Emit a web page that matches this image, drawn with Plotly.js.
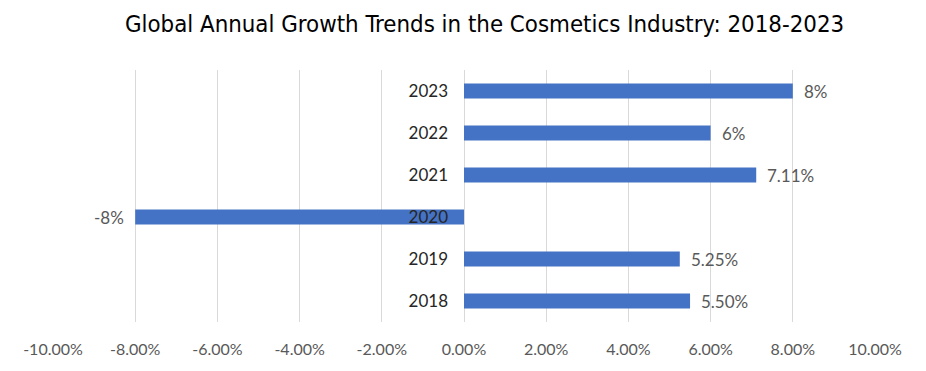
<!DOCTYPE html>
<html>
<head>
<meta charset="utf-8">
<script src="https://cdn.plot.ly/plotly-3.0.1.min.js"></script>
<style>html,body{margin:0;padding:0;background:#fff;}#chart{width:926px;height:371px;}</style>
</head>
<body>
<div id="chart"></div>
<script>
var years = ["2018", "2019", "2020", "2021", "2022", "2023"];
var growth = [0.055, 0.0525, -0.08, 0.0711, 0.06, 0.08];
var labels = ["5.50%", "5.25%", "-8%", "7.11%", "6%", "8%"];
var tickVals = [-0.10, -0.08, -0.06, -0.04, -0.02, 0, 0.02, 0.04, 0.06, 0.08, 0.10];
var tickText = ["-10.00%", "-8.00%", "-6.00%", "-4.00%", "-2.00%", "0.00%", "2.00%", "4.00%", "6.00%", "8.00%", "10.00%"];

var trace = {
  type: "bar",
  orientation: "h",
  x: growth,
  y: years,
  marker: {color: "#4472C4"},
  width: 0.36,
  hoverinfo: "x+y"
};

var annotations = growth.map(function (v, i) {
  return {
    x: v,
    y: i,
    xref: "x",
    yref: "y",
    text: labels[i],
    showarrow: false,
    xanchor: v >= 0 ? "left" : "right",
    yanchor: "middle",
    xshift: v >= 0 ? 9 : -9,
    font: {family: "Lato, 'Open Sans', sans-serif", size: 17, color: "#595959"}
  };
});

var layout = {
  width: 926,
  height: 371,
  margin: {l: 53, r: 51, t: 70, b: 49},
  paper_bgcolor: "#ffffff",
  plot_bgcolor: "#ffffff",
  showlegend: false,
  annotations: annotations,
  title: {
    text: "Global Annual Growth Trends in the Cosmetics Industry: 2018-2023",
    font: {family: "'DejaVu Sans Condensed', 'Liberation Sans Narrow', sans-serif", size: 23.8, color: "#000000"},
    xref: "paper", x: 0.525, xanchor: "center", y: 0.935, yanchor: "middle"
  },
  xaxis: {
    range: [-0.10, 0.10],
    tickvals: tickVals,
    ticktext: tickText,
    showgrid: true,
    gridcolor: "#d9d9d9",
    gridwidth: 1,
    zeroline: false,
    showline: false,
    ticks: "",
    ticklabelstandoff: 16,
    tickfont: {family: "Lato, 'Open Sans', sans-serif", size: 16, color: "#595959"},
    fixedrange: true
  },
  yaxis: {
    type: "category",
    categoryarray: years,
    range: [-0.5, years.length - 0.5],
    anchor: "free",
    position: 0.5,
    showgrid: false,
    zeroline: false,
    showline: false,
    ticks: "",
    ticklabelstandoff: 16,
    tickfont: {family: "Lato, 'Open Sans', sans-serif", size: 17, color: "#262626"},
    fixedrange: true
  },
  bargap: 0.64
};

Plotly.newPlot("chart", [trace], layout, {displayModeBar: false, staticPlot: true});
</script>
</body>
</html>
